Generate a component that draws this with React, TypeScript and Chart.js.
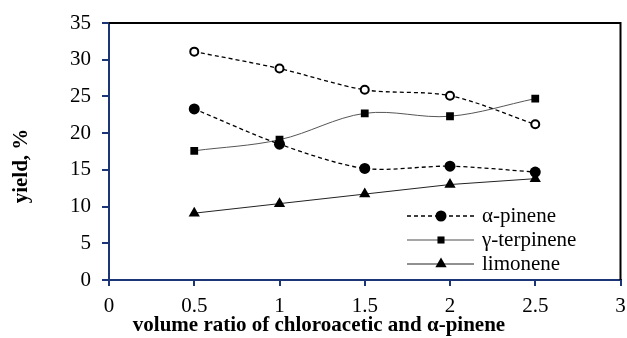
import React, { useEffect, useRef } from "react";
import { Chart, registerables } from "chart.js";

Chart.register(...registerables);

const ratios = [0.5, 1, 1.5, 2, 2.5];
const unnamedOpen = [31.1, 28.8, 25.9, 25.1, 21.2];
const alphaPinene = [23.3, 18.5, 15.2, 15.5, 14.7];
const gammaTerpinene = [17.6, 19.1, 22.7, 22.3, 24.7];
const limonene = [9.1, 10.4, 11.7, 13.0, 13.8];
const legendLabels = ["α-pinene", "γ-terpinene", "limonene"];
const xTitle = "volume ratio of chloroacetic and α-pinene";
const yTitle = "yield, %";

const NAVY = "#1b3577";
const SERIF = "'Liberation Serif', 'DejaVu Serif', serif";

const toPts = (ys: number[]) => ratios.map((x, i) => ({ x, y: ys[i] }));

function drawMarker(ctx: CanvasRenderingContext2D, style: string, x: number, y: number, r: number) {
  ctx.beginPath();
  if (style === "circle") {
    ctx.arc(x, y, r, 0, Math.PI * 2);
  } else if (style === "rect") {
    const s = Math.SQRT1_2 * r;
    ctx.rect(x - s, y - s, 2 * s, 2 * s);
  } else {
    ctx.moveTo(x, y - r);
    ctx.lineTo(x + r * 0.866, y + r * 0.5);
    ctx.lineTo(x - r * 0.866, y + r * 0.5);
    ctx.closePath();
  }
  ctx.fill();
}

const decorPlugin = {
  id: "decor",
  afterDraw(chart: any) {
    const { ctx, chartArea } = chart;
    const { left, top, right, bottom } = chartArea;
    ctx.save();
    ctx.strokeStyle = "#000";
    ctx.lineWidth = 2;
    ctx.beginPath();
    ctx.moveTo(left, top);
    ctx.lineTo(right, top);
    ctx.lineTo(right, bottom);
    ctx.stroke();

    const rows = [
      { y: 216, dash: [4, 3], color: "#000", width: 1.3, style: "circle", r: 5.5 },
      { y: 240, dash: [], color: "#888", width: 1.3, style: "rect", r: 5 },
      { y: 264, dash: [], color: "#222", width: 1, style: "triangle", r: 6.5 },
    ];
    const x0 = 407, x1 = 474, xm = 441;
    rows.forEach((row, i) => {
      ctx.save();
      ctx.strokeStyle = row.color;
      ctx.lineWidth = row.width;
      ctx.setLineDash(row.dash);
      ctx.beginPath();
      ctx.moveTo(x0, row.y);
      ctx.lineTo(x1, row.y);
      ctx.stroke();
      ctx.restore();
      ctx.fillStyle = "#000";
      drawMarker(ctx, row.style, xm, row.y, row.r);
      ctx.font = `21px ${SERIF}`;
      ctx.textBaseline = "middle";
      ctx.textAlign = "left";
      ctx.fillText(legendLabels[i], 482, row.y);
    });

    ctx.fillStyle = "#000";
    ctx.font = `bold 21px ${SERIF}`;
    ctx.textAlign = "center";
    ctx.textBaseline = "alphabetic";
    ctx.fillText(xTitle, 319, 331);

    ctx.save();
    ctx.translate(27, 166);
    ctx.rotate(-Math.PI / 2);
    ctx.font = `bold 21px ${SERIF}`;
    ctx.textAlign = "center";
    ctx.textBaseline = "alphabetic";
    ctx.fillText(yTitle, 0, 0);
    ctx.restore();

    ctx.restore();
  },
};

export default function App() {
  const ref = useRef<HTMLCanvasElement | null>(null);

  useEffect(() => {
    if (!ref.current) return;
    Chart.defaults.font.family = SERIF;
    const chart = new Chart(ref.current, {
      type: "line",
      data: {
        datasets: [
          {
            label: "open",
            data: toPts(unnamedOpen),
            borderColor: "#000",
            borderWidth: 1.3,
            borderDash: [4, 3],
            pointStyle: "circle",
            pointRadius: 4,
            pointBorderWidth: 2,
            pointBackgroundColor: "#fff",
            pointBorderColor: "#000",
            tension: 0.3,
          },
          {
            label: legendLabels[0],
            data: toPts(alphaPinene),
            borderColor: "#000",
            borderWidth: 1.3,
            borderDash: [4, 3],
            pointStyle: "circle",
            pointRadius: 5.5,
            pointBorderWidth: 0,
            pointBackgroundColor: "#000",
            tension: 0.3,
          },
          {
            label: legendLabels[1],
            data: toPts(gammaTerpinene),
            borderColor: "#555",
            borderWidth: 1,
            pointStyle: "rect",
            pointRadius: 5.5,
            pointBorderWidth: 0,
            pointBackgroundColor: "#000",
            tension: 0.35,
          },
          {
            label: legendLabels[2],
            data: toPts(limonene),
            borderColor: "#222",
            borderWidth: 1,
            pointStyle: "triangle",
            pointRadius: 6.5,
            pointBorderWidth: 0,
            pointBackgroundColor: "#000",
            tension: 0,
          },
        ],
      },
      options: {
        animation: false,
        responsive: false,
        layout: { padding: { top: 23, right: 3, left: 0, bottom: 0 } },
        plugins: { legend: { display: false }, tooltip: { enabled: false } },
        scales: {
          x: {
            type: "linear",
            min: 0,
            max: 3,
            ticks: {
              stepSize: 0.5,
              color: "#000",
              font: { size: 21, family: SERIF },
              padding: 8,
              maxRotation: 0,
              callback: (v: any) => String(v),
            },
            grid: { drawOnChartArea: false, drawTicks: true, tickLength: 6, color: NAVY, lineWidth: 2 },
            border: { display: true, color: NAVY, width: 2 },
            afterFit: (s: any) => {
              s.height = 58;
              s.paddingLeft = 0;
              s.paddingRight = 0;
            },
          },
          y: {
            min: 0,
            max: 35,
            ticks: {
              stepSize: 5,
              color: "#000",
              font: { size: 21, family: SERIF },
              padding: 11,
              callback: (v: any) => String(v),
            },
            grid: { drawOnChartArea: false, drawTicks: true, tickLength: 7, color: NAVY, lineWidth: 2 },
            border: { display: true, color: NAVY, width: 2 },
            afterFit: (s: any) => {
              s.width = 109;
              s.paddingTop = 0;
              s.paddingBottom = 0;
            },
          },
        },
      },
      plugins: [decorPlugin],
    });
    return () => chart.destroy();
  }, []);

  return (
    <div style={{ position: "fixed", left: 0, top: 0, width: 627, height: 338, background: "#fff" }}>
      <canvas ref={ref} width={627} height={338} style={{ display: "block" }} />
    </div>
  );
}
